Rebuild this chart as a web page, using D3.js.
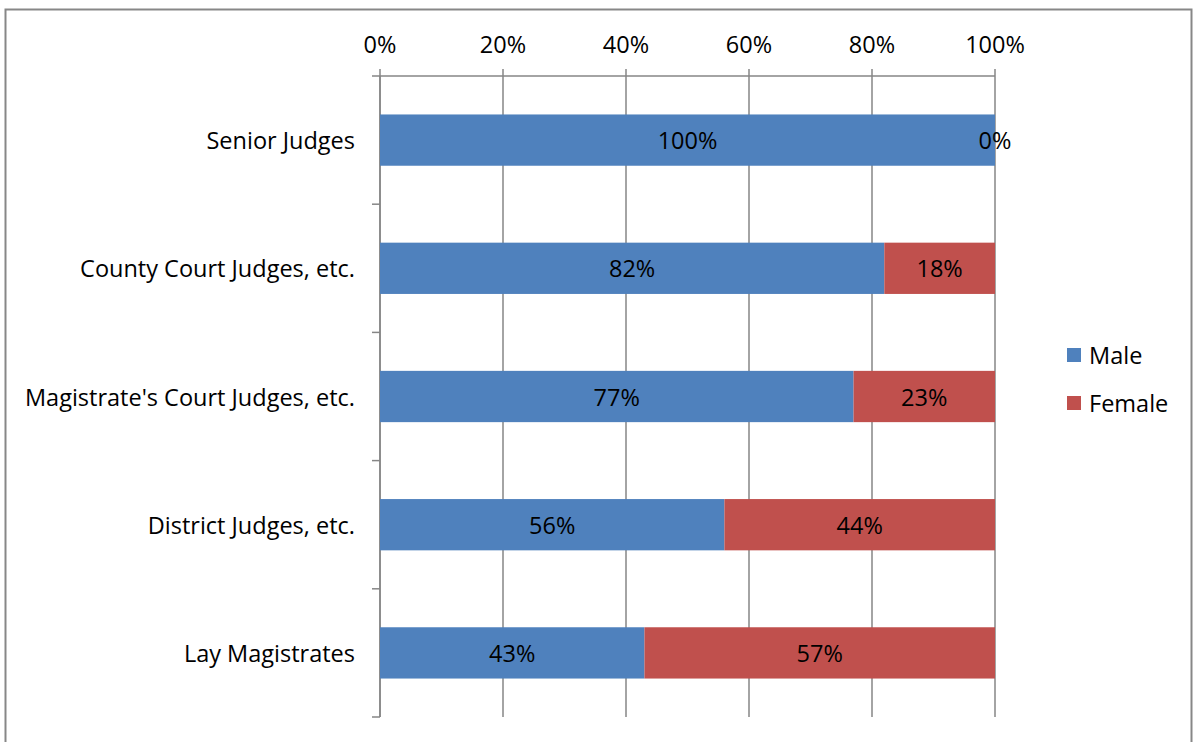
<!DOCTYPE html>
<html><head><meta charset="utf-8">
<script src="https://cdn.jsdelivr.net/npm/d3@7"></script>
<style>
html,body{margin:0;padding:0;background:#fff;}
text{font-family:"Open Sans","Noto Sans",sans-serif;fill:#000;}
</style></head>
<body>
<svg id="chart" width="1194" height="742"></svg>
<script>
const categories = ["Senior Judges","County Court Judges, etc.","Magistrate's Court Judges, etc.","District Judges, etc.","Lay Magistrates"];
const maleValues = [100, 82, 77, 56, 43];
const femaleValues = [0, 18, 23, 44, 57];
const seriesNames = ["Male","Female"];
const seriesColors = ["#4F81BD","#C0504D"];
const tickValues = [0, 20, 40, 60, 80, 100];

const svg = d3.select("#chart");
const pLeft = 380, pRight = 995, pTop = 76, pBottom = 717;
const fs = 23.5;

// outer border
svg.append("rect").attr("x",5.5).attr("y",9.5).attr("width",1186).attr("height",740)
  .attr("fill","none").attr("stroke","#878787").attr("stroke-width",2);

const x = d3.scaleLinear().domain([0,100]).range([pLeft,pRight]);
const y = d3.scaleBand().domain(categories).range([pTop,pBottom]).paddingInner(0.6).paddingOuter(0.3);

// gridlines
svg.append("g").selectAll("line").data(tickValues).join("line")
  .attr("x1",d=>x(d)).attr("x2",d=>x(d)).attr("y1",pTop-7).attr("y2",pBottom)
  .attr("stroke","#868686").attr("stroke-width",1.5);

// top axis line
svg.append("line").attr("x1",pLeft-8).attr("x2",pRight).attr("y1",pTop).attr("y2",pTop)
  .attr("stroke","#868686").attr("stroke-width",1.5);
// left axis line
svg.append("line").attr("x1",pLeft).attr("x2",pLeft).attr("y1",pTop).attr("y2",pBottom)
  .attr("stroke","#868686").attr("stroke-width",1.5);
// category boundary ticks
const bounds = d3.range(categories.length+1).map(i=>pTop + i*(pBottom-pTop)/categories.length);
svg.append("g").selectAll("line").data(bounds.slice(1)).join("line")
  .attr("x1",pLeft-8).attr("x2",pLeft).attr("y1",d=>d).attr("y2",d=>d)
  .attr("stroke","#868686").attr("stroke-width",1.5);

// tick labels
svg.append("g").selectAll("text").data(tickValues).join("text")
  .attr("x",d=>x(d)).attr("y",44).attr("text-anchor","middle").attr("dominant-baseline","central")
  .attr("font-size",fs).text(d=>d+"%");

// stacked data
const data = categories.map((c,i)=>({cat:c, Male:maleValues[i], Female:femaleValues[i]}));
const stack = d3.stack().keys(seriesNames)(data);

const gBars = svg.append("g");
stack.forEach((s,si)=>{
  gBars.append("g").selectAll("rect").data(s).join("rect")
    .attr("x",d=>x(d[0])).attr("width",d=>x(d[1])-x(d[0]))
    .attr("y",d=>y(d.data.cat)).attr("height",y.bandwidth())
    .attr("fill",seriesColors[si]);
});
stack.forEach((s,si)=>{
  gBars.append("g").selectAll("text").data(s).join("text")
    .attr("x",d=>(x(d[0])+x(d[1]))/2).attr("y",d=>y(d.data.cat)+y.bandwidth()/2)
    .attr("text-anchor","middle").attr("dominant-baseline","central")
    .attr("font-size",fs).text(d=>(d[1]-d[0])+"%");
});

// category labels
svg.append("g").selectAll("text").data(categories).join("text")
  .attr("x",355).attr("y",d=>y(d)+y.bandwidth()/2)
  .attr("text-anchor","end").attr("dominant-baseline","central")
  .attr("font-size",fs).text(d=>d);

// legend
const lg = svg.append("g");
seriesNames.forEach((n,i)=>{
  lg.append("rect").attr("x",1067).attr("y",348+i*48).attr("width",14).attr("height",14).attr("fill",seriesColors[i]);
  lg.append("text").attr("x",1089).attr("y",355+i*48).attr("dominant-baseline","central")
    .attr("font-size",fs).text(n);
});
</script>
</body></html>
